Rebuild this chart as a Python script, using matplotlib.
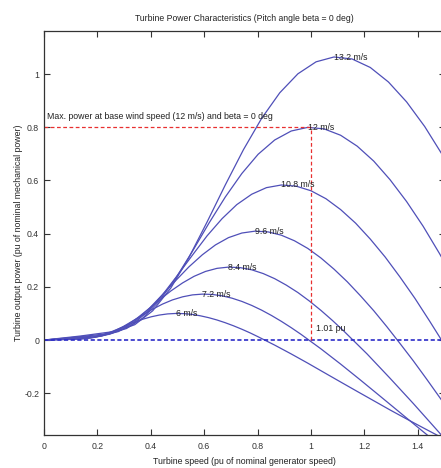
import matplotlib
matplotlib.use('Agg')
import matplotlib.pyplot as plt

matplotlib.rcParams['font.family']='sans-serif'
matplotlib.rcParams['font.sans-serif']=['Liberation Sans','DejaVu Sans']
plt.rcParams.update({'font.size':6})

# wind speeds (m/s) and the curves: turbine speed (pu) -> power (pu)
winds=['6 m/s','7.2 m/s','8.4 m/s','9.6 m/s','10.8 m/s','12 m/s','13.2 m/s']

w6=[0,0.062,0.123,0.154,0.185,0.216,0.247,0.278,0.309,0.340,0.370,0.401,0.432,0.463,0.494,0.525,0.556,0.586,0.617,0.648,0.679,0.710,0.741,0.772,0.802,0.864,0.926,0.988,1.049,1.111,1.173,1.235,1.296,1.358,1.420,1.481,1.512]
p6=[0,0.0014,0.0031,0.0054,0.0103,0.0184,0.0292,0.0417,0.0548,0.0672,0.0783,0.0873,0.0940,0.0983,0.1000,0.0993,0.0963,0.0911,0.0841,0.0754,0.0651,0.0535,0.0407,0.0269,0.0123,-0.0190,-0.0523,-0.0869,-0.1221,-0.1577,-0.1931,-0.2282,-0.2628,-0.2967,-0.3299,-0.3622,-0.3781]

w72=[0,0.074,0.148,0.185,0.222,0.259,0.296,0.333,0.370,0.407,0.444,0.481,0.519,0.556,0.593,0.630,0.667,0.704,0.741,0.778,0.815,0.852,0.889,0.926,0.963,1.037,1.111,1.185,1.259,1.333,1.407,1.481]
p72=[0,0.0024,0.0054,0.0094,0.0178,0.0318,0.0504,0.0721,0.0946,0.1162,0.1353,0.1509,0.1625,0.1698,0.1727,0.1715,0.1663,0.1575,0.1453,0.1302,0.1125,0.0924,0.0703,0.0465,0.0212,-0.0329,-0.0904,-0.1502,-0.2111,-0.2724,-0.3337,-0.3944]

w84=[0,0.086,0.173,0.216,0.259,0.302,0.346,0.389,0.432,0.475,0.519,0.562,0.605,0.648,0.691,0.735,0.778,0.821,0.864,0.907,0.951,0.994,1.037,1.080,1.123,1.210,1.296,1.383,1.469,1.512]
p84=[0,0.0039,0.0086,0.0149,0.0283,0.0504,0.0801,0.1145,0.1503,0.1845,0.2148,0.2396,0.2580,0.2696,0.2743,0.2723,0.2641,0.2500,0.2308,0.2068,0.1786,0.1467,0.1117,0.0739,0.0337,-0.0522,-0.1436,-0.2384,-0.3352,-0.3839]

w96=[0,0.099,0.198,0.247,0.296,0.346,0.395,0.444,0.494,0.543,0.593,0.642,0.691,0.741,0.790,0.840,0.889,0.938,0.988,1.037,1.086,1.136,1.185,1.235,1.284,1.333,1.383,1.432,1.481,1.531]
p96=[0,0.0058,0.0128,0.0222,0.0422,0.0753,0.1196,0.1709,0.2243,0.2754,0.3206,0.3576,0.3851,0.4024,0.4094,0.4065,0.3942,0.3733,0.3445,0.3087,0.2667,0.2190,0.1667,0.1103,0.0503,-0.0125,-0.0779,-0.1453,-0.2144,-0.2846]

w108=[0,0.111,0.222,0.278,0.333,0.389,0.444,0.500,0.556,0.611,0.667,0.722,0.778,0.833,0.889,0.944,1.000,1.056,1.111,1.167,1.222,1.278,1.333,1.389,1.444,1.500]
p108=[0,0.0083,0.0183,0.0317,0.0601,0.1072,0.1702,0.2434,0.3194,0.3921,0.4565,0.5092,0.5483,0.5730,0.5830,0.5788,0.5613,0.5314,0.4905,0.4396,0.3797,0.3119,0.2374,0.1571,0.0717,-0.0179]

w12=[0,0.123,0.247,0.309,0.370,0.432,0.494,0.556,0.617,0.679,0.741,0.802,0.864,0.926,0.988,1.049,1.111,1.173,1.235,1.296,1.358,1.420,1.481,1.543]
p12=[0,0.0113,0.0251,0.0434,0.0825,0.1470,0.2335,0.3338,0.4382,0.5378,0.6262,0.6985,0.7522,0.7860,0.7997,0.7940,0.7700,0.7290,0.6728,0.6030,0.5208,0.4278,0.3257,0.2155]

w132=[0,0.136,0.272,0.340,0.407,0.475,0.543,0.611,0.679,0.747,0.815,0.883,0.951,1.019,1.086,1.154,1.222,1.290,1.358,1.426,1.494,1.562]
p132=[0,0.0151,0.0334,0.0578,0.1098,0.1957,0.3108,0.4443,0.5832,0.7158,0.8334,0.9297,1.0011,1.0461,1.0643,1.0568,1.0249,0.9703,0.8955,0.8026,0.6932,0.5694]

# label anchor = max power point of each curve
peak_w=[0.494,0.593,0.691,0.790,0.889,0.988,1.086]
peak_p=[0.100,0.173,0.274,0.409,0.583,0.800,1.064]

xticks=[0,0.2,0.4,0.6,0.8,1,1.2,1.4]
xticklabels=['0','0.2','0.4','0.6','0.8','1','1.2','1.4']
yticks=[-0.2,0,0.2,0.4,0.6,0.8,1]
yticklabels=['-0.2','0','0.2','0.4','0.6','0.8','1']

if __name__=='__main__':
	fig=plt.figure(figsize=(4.41,4.68),dpi=100)
	# axes run a little past the right edge like the cropped original
	ax=fig.add_axes([44/441,33/468,400.5/441,404/468])
	ws=[w6,w72,w84,w96,w108,w12,w132]
	ps=[p6,p72,p84,p96,p108,p12,p132]
	for i in range(len(ws)):
		ax.plot(ws[i],ps[i],color='#4f4fb8',linewidth=0.9)
		ax.text(peak_w[i],peak_p[i],winds[i],ha='left',va='center',fontsize=6.3,color='#222222')
	ax.plot([0,1.5],[0,0],color='#2b2bc8',linestyle=(0,(2.5,1.5)),linewidth=1.2)
	ax.plot([0,1],[0.8,0.8],color='#e83030',linestyle=(0,(3,2)),linewidth=0.9)
	ax.plot([1,1],[0,0.8],color='#e83030',linestyle=(0,(3,2)),linewidth=0.9)
	ax.text(0.012,0.84,'Max. power at base wind speed (12 m/s) and beta = 0 deg',ha='left',va='center',fontsize=6.3,color='#222222')
	ax.text(1.02,0.045,'1.01 pu',ha='left',va='center',fontsize=6.3,color='#222222')

	ax.set_xlim(0,1.5)
	ax.set_ylim(-0.357,1.162)
	ax.set_xticks(xticks)
	ax.set_xticklabels(xticklabels)
	ax.set_yticks(yticks)
	ax.set_yticklabels(yticklabels)
	ax.tick_params('both',direction='in',length=4,width=0.8,top=True,right=True,pad=5,labelsize=6.3,colors='#333333')
	ax.tick_params('y',pad=3.5)
	for s in ax.spines.values():
		s.set_linewidth(0.9)
		s.set_color('#333333')
	ax.set_title('Turbine Power Characteristics (Pitch angle beta = 0 deg)',fontsize=6.2,pad=7,color='#222222')
	ax.set_xlabel('Turbine speed (pu of nominal generator speed)',fontsize=6.3,labelpad=4,color='#222222')
	ax.set_ylabel('Turbine output power (pu of nominal mechanical power)',fontsize=6.3,labelpad=1,color='#222222')
	plt.savefig('out.png',dpi=100)
	plt.close(fig)
